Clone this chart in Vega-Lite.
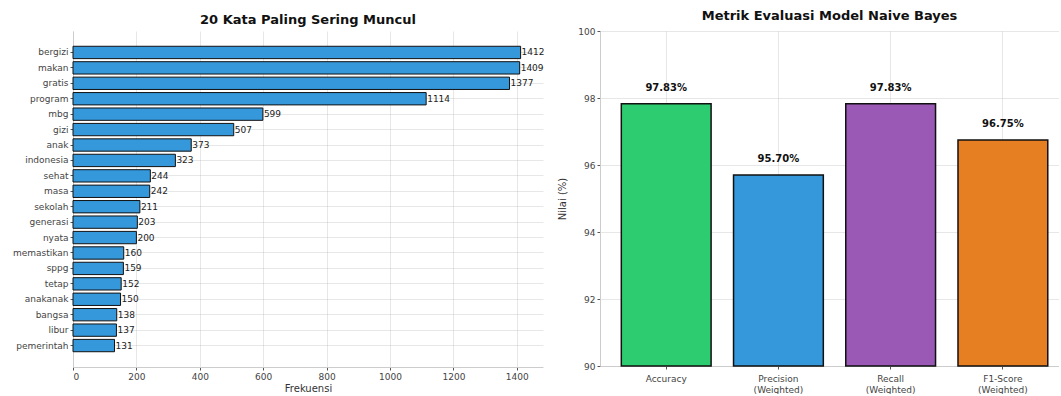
{
  "$schema": "https://vega.github.io/schema/vega-lite/v6.json",
  "background": "white",
  "padding": {"left": 12, "top": 10, "right": 0, "bottom": 0},
  "bounds": "flush",
  "spacing": 57,
  "config": {
    "view": {"stroke": null},
    "font": "DejaVu Sans",
    "axis": {
      "labelFont": "DejaVu Sans", "labelFontSize": 9, "labelColor": "#444444",
      "tickColor": "#555555", "tickSize": 3, "domainColor": "#cccccc",
      "gridColor": "#b0b0b0", "gridOpacity": 0.3, "zindex": 1,
      "titleFont": "DejaVu Sans", "titleFontWeight": "normal", "titleFontSize": 10, "titleColor": "#333333"
    },
    "title": {"font": "DejaVu Sans", "fontSize": 13, "fontWeight": "bold", "color": "#111111", "anchor": "middle", "offset": 4}
  },
  "hconcat": [
    {
      "width": 470,
      "height": 336,
      "title": "20 Kata Paling Sering Muncul",
      "data": {"values": [
        {"kata": "bergizi", "frekuensi": 1412},
        {"kata": "makan", "frekuensi": 1409},
        {"kata": "gratis", "frekuensi": 1377},
        {"kata": "program", "frekuensi": 1114},
        {"kata": "mbg", "frekuensi": 599},
        {"kata": "gizi", "frekuensi": 507},
        {"kata": "anak", "frekuensi": 373},
        {"kata": "indonesia", "frekuensi": 323},
        {"kata": "sehat", "frekuensi": 244},
        {"kata": "masa", "frekuensi": 242},
        {"kata": "sekolah", "frekuensi": 211},
        {"kata": "generasi", "frekuensi": 203},
        {"kata": "nyata", "frekuensi": 200},
        {"kata": "memastikan", "frekuensi": 160},
        {"kata": "sppg", "frekuensi": 159},
        {"kata": "tetap", "frekuensi": 152},
        {"kata": "anakanak", "frekuensi": 150},
        {"kata": "bangsa", "frekuensi": 138},
        {"kata": "libur", "frekuensi": 137},
        {"kata": "pemerintah", "frekuensi": 131}
      ]},
      "encoding": {
        "y": {
          "field": "kata", "type": "nominal", "sort": null,
          "scale": {"paddingInner": 0.2, "paddingOuter": 0.99},
          "axis": {"title": null, "grid": true, "labelPadding": 2}
        },
        "x": {
          "field": "frekuensi", "type": "quantitative",
          "scale": {"domain": [0, 1482.6], "nice": false},
          "axis": {"values": [0, 200, 400, 600, 800, 1000, 1200, 1400], "format": "d", "title": "Frekuensi", "grid": true, "titlePadding": 2}
        }
      },
      "layer": [
        {"mark": {"type": "bar", "color": "#3498db", "stroke": "#111111", "strokeWidth": 1}},
        {"mark": {"type": "text", "align": "left", "baseline": "middle", "dx": 1, "fontSize": 9, "color": "#222222"},
         "encoding": {"text": {"field": "frekuensi", "type": "quantitative", "format": "d"}}}
      ]
    },
    {
      "width": 459,
      "height": 335,
      "title": "Metrik Evaluasi Model Naive Bayes",
      "data": {"values": [
        {"metrik": "Accuracy", "nilai": 97.83, "label": "97.83%"},
        {"metrik": "Precision (Weighted)", "nilai": 95.70, "label": "95.70%"},
        {"metrik": "Recall (Weighted)", "nilai": 97.83, "label": "97.83%"},
        {"metrik": "F1-Score (Weighted)", "nilai": 96.75, "label": "96.75%"}
      ]},
      "encoding": {
        "x": {
          "field": "metrik", "type": "nominal", "sort": null,
          "scale": {"paddingInner": 0.2, "paddingOuter": 0.145, "align": 0.655},
          "axis": {"title": null, "labelAngle": 0, "grid": true, "labelExpr": "split(datum.label, ' ')", "labelLineHeight": 11, "labelPadding": 5}
        },
        "y": {
          "field": "nilai", "type": "quantitative",
          "scale": {"domain": [90, 100], "nice": false, "zero": false},
          "axis": {"values": [90, 92, 94, 96, 98, 100], "title": "Nilai (%)", "grid": true, "titlePadding": 10}
        }
      },
      "layer": [
        {"mark": {"type": "bar", "stroke": "#111111", "strokeWidth": 1.5},
         "encoding": {
           "y2": {"datum": 90},
           "color": {"field": "metrik", "type": "nominal", "legend": null, "sort": null,
             "scale": {"domain": ["Accuracy", "Precision (Weighted)", "Recall (Weighted)", "F1-Score (Weighted)"],
                       "range": ["#2ecc71", "#3498db", "#9b59b6", "#e67e22"]}}
         }},
        {"mark": {"type": "text", "baseline": "alphabetic", "dy": -13, "fontSize": 10, "fontWeight": "bold", "color": "#111111"},
         "encoding": {"text": {"field": "label", "type": "nominal"}}}
      ]
    }
  ]
}
